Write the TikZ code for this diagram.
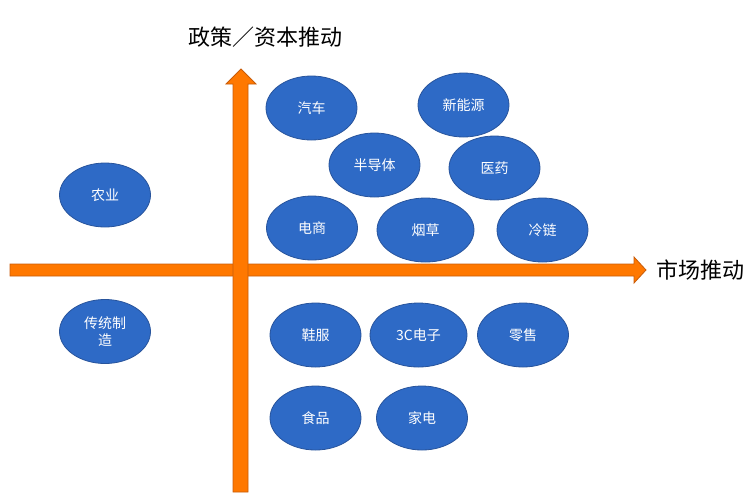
\documentclass[tikz,border=0pt]{standalone}
\usepackage{fontspec}
\newfontfamily\cjk{Noto Sans CJK SC}
\usetikzlibrary{shapes.geometric}
\definecolor{bubblefill}{RGB}{46,106,198}
\definecolor{bubbleline}{RGB}{40,84,156}
\definecolor{axisfill}{RGB}{255,120,0}
\definecolor{axisline}{RGB}{200,92,10}
\tikzset{
  bubble/.style={ellipse, draw=bubbleline, line width=0.8pt, fill=bubblefill,
    minimum width=91, minimum height=64, inner sep=0pt,
    text=white, font=\cjk\fontsize{14}{17}\selectfont, align=center},
  wide/.style={minimum width=97},
  axisbody/.style={fill=axisfill, draw=axisline, line width=0.8pt, line join=miter},
  axistitle/.style={font=\cjk\fontsize{22}{25}\selectfont, text=black, inner sep=0pt}
}
\begin{document}
\begin{tikzpicture}[x=1pt,y=-1pt]
\useasboundingbox (0,0) rectangle (754,496);
% horizontal axis (market)
\draw[axisbody] (10,264) -- (634,264) -- (634,257) -- (646,270) -- (634,283) -- (634,276) -- (10,276) -- cycle;
% vertical axis (policy)
\draw[axisbody] (233,492) -- (233,84) -- (226,84) -- (241,69) -- (256,84) -- (248,84) -- (248,492) -- cycle;
% titles
\node[axistitle] (ytitle) at (265,37) {政策／资本推动};
\node[axistitle, anchor=west] (xtitle) at (656,270) {市场推动};
% bubbles
\node[bubble] (qiche) at (311.5,108) {汽车};
\node[bubble] (xinnengyuan) at (463.5,105) {新能源};
\node[bubble] (bandaoti) at (374.5,165) {半导体};
\node[bubble] (yiyao) at (494.5,168) {医药};
\node[bubble] (nongye) at (105,195) {农业};
\node[bubble] (dianshang) at (312,228) {电商};
\node[bubble, wide] (yancao) at (425.5,230) {烟草};
\node[bubble] (lenglian) at (542.5,230) {冷链};
\node[bubble] (chuantong) at (105,331.5) {传统制\\造};
\node[bubble] (xiefu) at (315.5,335) {鞋服};
\node[bubble, wide] (dianzi) at (418.5,335) {3C电子};
\node[bubble] (lingshou) at (523,335) {零售};
\node[bubble] (shipin) at (315.5,418) {食品};
\node[bubble] (jiadian) at (422,418) {家电};
\end{tikzpicture}
\end{document}
